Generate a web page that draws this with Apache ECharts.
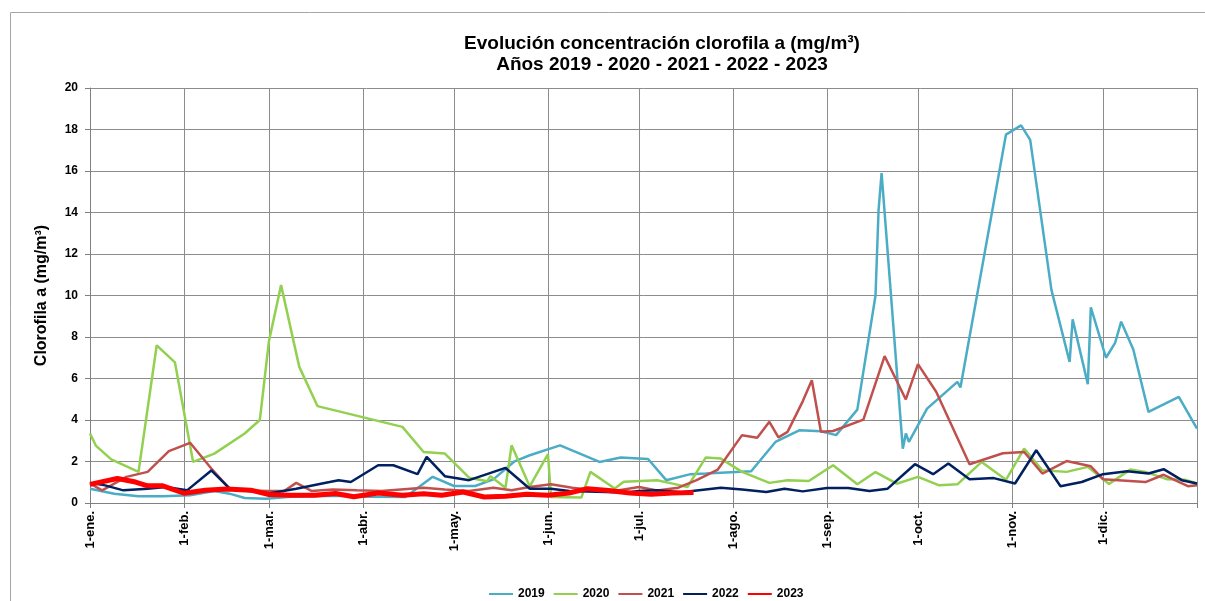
<!DOCTYPE html>
<html>
<head>
<meta charset="utf-8">
<script src="https://cdn.jsdelivr.net/npm/echarts@6/dist/echarts.min.js"></script>
<style>
  html, body { margin: 0; padding: 0; background: #fff; }
  #chart { width: 1205px; height: 601px; }
</style>
</head>
<body>
<div id="chart"></div>
<script>
// dias del año (0 = 1-ene.) y valores
var monthLabels = ['1-ene.', '1-feb.', '1-mar.', '1-abr.', '1-may.', '1-jun.', '1-jul.', '1-ago.', '1-sep.', '1-oct.', '1-nov.', '1-dic.'];
var monthStarts = [0, 31, 59, 90, 120, 151, 181, 212, 243, 273, 304, 334];
var yearDays = 365;

var s2019 = [[0,0.69],[8,0.45],[16,0.32],[24,0.32],[33,0.37],[41,0.58],[46,0.45],[51,0.24],[58,0.21],[66,0.3],[80,0.35],[92,0.3],[104,0.29],[113,1.26],[120,0.82],[127,0.82],[133,1.14],[140,2.01],[145,2.3],[155,2.78],[168,1.98],[175,2.19],[184,2.12],[190,1.1],[198,1.39],[203,1.42],[218,1.53],[226,2.94],[234,3.51],[241,3.46],[246,3.27],[253,4.5],[259,10.0],[260,14.1],[261,15.9],[268,2.62],[269,3.35],[270,2.95],[276,4.55],[286,5.84],[287,5.57],[302,17.75],[307,18.2],[310,17.5],[317,10.27],[323,6.8],[324,8.85],[329,5.73],[330,9.43],[335,7.0],[338,7.72],[340,8.74],[344,7.4],[349,4.39],[359,5.12],[365,3.59]];
var s2020 = [[0,3.35],[2,2.75],[7,2.1],[16,1.5],[22,7.6],[28,6.78],[34,1.98],[41,2.38],[51,3.35],[56,4.0],[59,7.8],[63,10.5],[69,6.56],[75,4.67],[103,3.67],[110,2.46],[117,2.38],[125,1.22],[131,1.05],[132,1.29],[137,0.74],[139,2.78],[145,0.8],[151,2.35],[152,0.29],[162,0.26],[165,1.5],[173,0.7],[176,1.03],[187,1.1],[191,0.97],[197,0.77],[203,2.19],[208,2.14],[215,1.5],[224,0.97],[230,1.1],[237,1.06],[245,1.82],[253,0.9],[259,1.49],[266,0.93],[273,1.26],[280,0.85],[286,0.9],[294,1.98],[302,1.12],[308,2.62],[314,1.58],[322,1.5],[329,1.74],[336,0.92],[343,1.61],[348,1.5],[355,1.15],[361,1.12],[365,0.94]];
var s2021 = [[0,0.94],[4,0.61],[12,1.26],[19,1.5],[26,2.5],[33,2.9],[40,1.66],[46,0.69],[52,0.6],[59,0.58],[64,0.58],[68,0.97],[73,0.58],[80,0.65],[88,0.61],[96,0.58],[110,0.74],[117,0.65],[125,0.58],[133,0.74],[139,0.61],[145,0.77],[152,0.9],[159,0.74],[164,0.65],[174,0.6],[181,0.77],[187,0.6],[194,0.74],[200,1.1],[207,1.61],[215,3.27],[220,3.14],[224,3.91],[227,3.16],[230,3.43],[235,4.9],[238,5.92],[241,3.43],[245,3.47],[255,4.02],[262,7.08],[269,4.99],[273,6.69],[279,5.36],[290,1.87],[301,2.4],[308,2.46],[314,1.42],[322,2.02],[330,1.77],[334,1.15],[348,1.01],[354,1.36],[362,0.81],[365,0.85]];
var s2022 = [[0,0.97],[5,0.85],[11,0.61],[19,0.69],[25,0.77],[32,0.61],[40,1.57],[46,0.7],[59,0.46],[68,0.69],[79,1.01],[82,1.1],[86,1.01],[95,1.82],[100,1.82],[108,1.39],[111,2.22],[117,1.29],[125,1.1],[137,1.69],[145,0.69],[152,0.69],[158,0.58],[176,0.5],[181,0.58],[187,0.62],[195,0.52],[208,0.74],[215,0.65],[223,0.53],[229,0.69],[235,0.56],[243,0.72],[250,0.72],[257,0.58],[263,0.69],[272,1.87],[278,1.39],[283,1.9],[290,1.14],[298,1.2],[305,0.94],[312,2.54],[320,0.81],[327,1.01],[334,1.39],[342,1.53],[349,1.42],[354,1.63],[360,1.1],[365,0.94]];
var s2023 = [[0,0.9],[9,1.18],[15,1.01],[19,0.83],[24,0.83],[31,0.47],[38,0.61],[45,0.68],[53,0.62],[59,0.41],[66,0.37],[74,0.37],[81,0.46],[87,0.3],[95,0.48],[103,0.37],[110,0.45],[116,0.37],[123,0.53],[130,0.29],[137,0.32],[144,0.42],[151,0.37],[158,0.48],[164,0.69],[171,0.6],[178,0.48],[185,0.42],[192,0.48],[199,0.5]];

var font = '"Liberation Sans", Arial, sans-serif';

// categorias: un dia por posicion, con etiqueta solo al inicio de mes
var days = [];
for (var d = 0; d <= yearDays; d++) {
    var m = monthStarts.indexOf(d);
    days.push(m >= 0 ? monthLabels[m] : '');
}
function isMonthStart(idx) { return monthStarts.indexOf(idx) >= 0; }
function isGridDay(idx) { return isMonthStart(idx) || idx === yearDays; }

function line(name, data, color, width) {
    return {
        name: name, type: 'line', data: data, symbol: 'none',
        lineStyle: { color: color, width: width }, itemStyle: { color: color },
        animation: false
    };
}

var myChart = echarts.init(document.getElementById('chart'));
myChart.setOption({
    backgroundColor: '#fff',
    animation: false,
    title: {
        text: 'Evolución concentración clorofila a (mg/m³)\nAños 2019 - 2020 - 2021 - 2022 - 2023',
        left: 657, top: 28, textAlign: 'center',
        textStyle: { fontFamily: font, fontSize: 19, fontWeight: 'bold', color: '#000', lineHeight: 21 }
    },
    graphic: [{
        type: 'rect', shape: { x: 10.5, y: 12.5, width: 1220, height: 620 },
        style: { fill: 'none', stroke: '#a6a6a6', lineWidth: 1 }, silent: true
    }],
    legend: {
        top: 583, left: 483,
        itemWidth: 24, itemHeight: 10, itemGap: 8,
        itemStyle: { opacity: 0 },
        textStyle: { fontFamily: font, fontSize: 12, fontWeight: 'bold', color: '#000' },
        data: ['2019', '2020', '2021', '2022', '2023']
    },
    grid: { left: 90, right: 8, top: 88, bottom: 98 },
    xAxis: {
        type: 'category', data: days, boundaryGap: false,
        axisLine: { lineStyle: { color: '#808080' } },
        axisTick: { interval: isGridDay, length: 5, lineStyle: { color: '#808080' } },
        axisLabel: {
            interval: isMonthStart, rotate: 90, margin: 8,
            fontFamily: font, fontSize: 13, fontWeight: 'bold', color: '#000'
        },
        splitLine: { show: true, interval: isGridDay, lineStyle: { color: '#8c8c8c', width: 1 } }
    },
    yAxis: {
        type: 'value', min: 0, max: 20, interval: 2,
        name: 'Clorofila a (mg/m³)', nameLocation: 'middle', nameGap: 40, nameRotate: 90,
        nameTextStyle: { fontFamily: font, fontSize: 16, fontWeight: 'bold', color: '#000' },
        axisLine: { show: true, lineStyle: { color: '#808080' } },
        axisTick: { show: true, length: 5, lineStyle: { color: '#808080' } },
        axisLabel: { fontFamily: font, fontSize: 12, fontWeight: 'bold', color: '#000', margin: 12 },
        splitLine: { lineStyle: { color: '#8c8c8c', width: 1 } }
    },
    series: [
        line('2019', s2019, '#4BACC6', 2.5),
        line('2020', s2020, '#92D050', 2.5),
        line('2021', s2021, '#C0504D', 2.5),
        line('2022', s2022, '#002060', 2.5),
        line('2023', s2023, '#FF0000', 5)
    ]
});
</script>
</body>
</html>
